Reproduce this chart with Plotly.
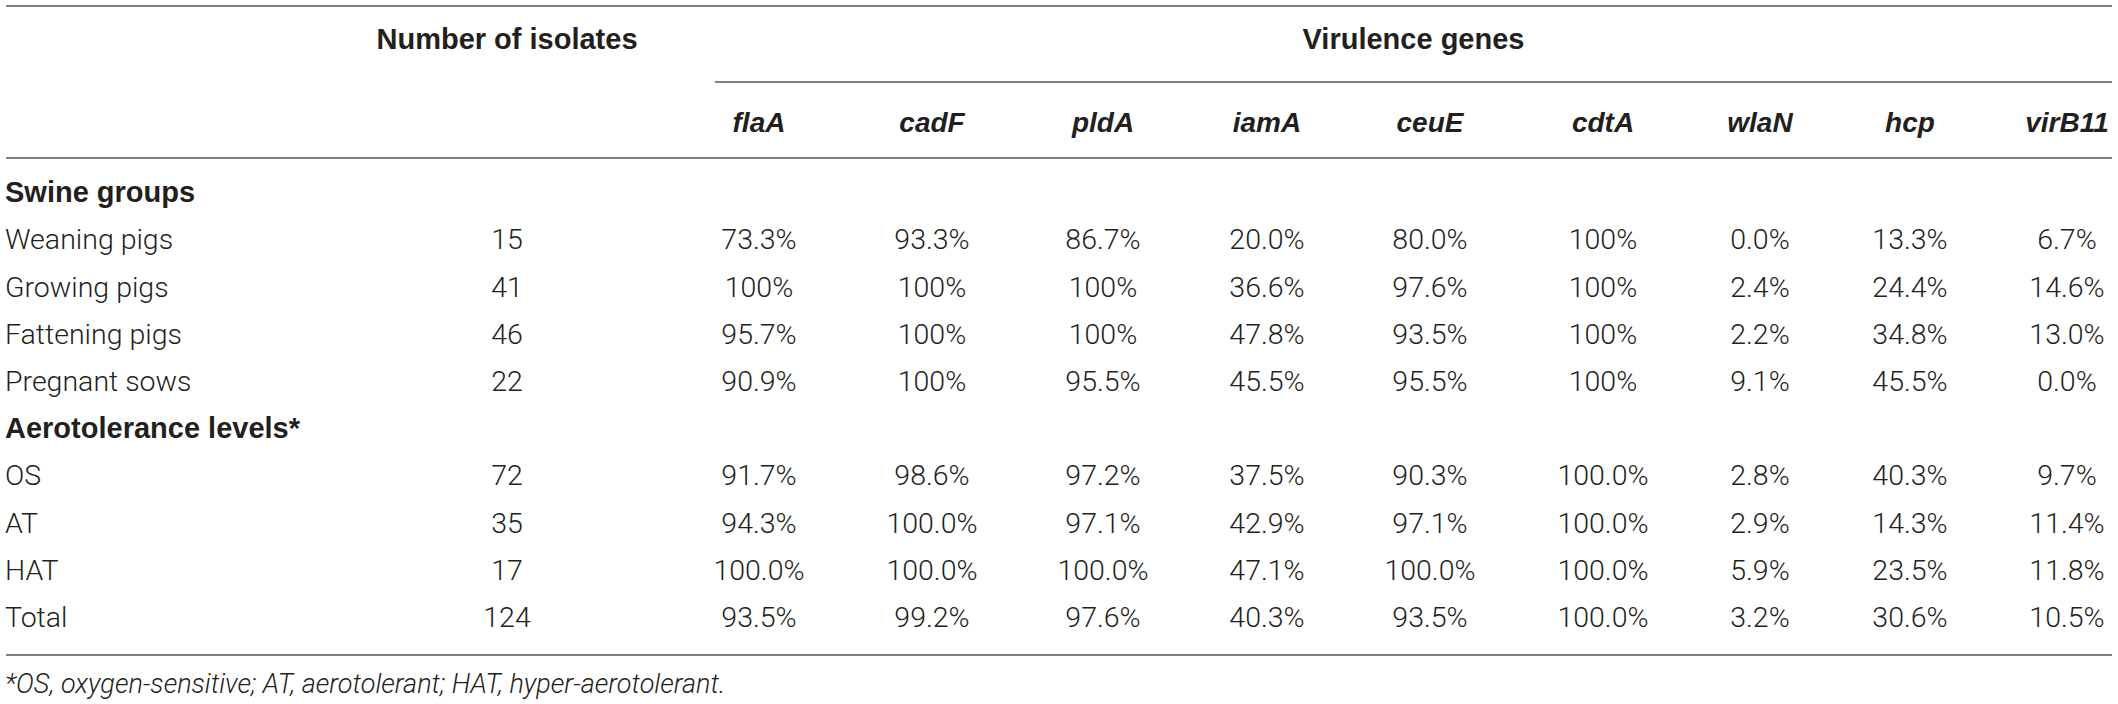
import plotly.graph_objects as go

# table contents
row_labels = ["Weaning pigs", "Growing pigs", "Fattening pigs", "Pregnant sows",
              "OS", "AT", "HAT", "Total"]
section_labels = ["Swine groups", "Aerotolerance levels*"]
isolates = [15, 41, 46, 22, 72, 35, 17, 124]
genes = ["flaA", "cadF", "pldA", "iamA", "ceuE", "cdtA", "wlaN", "hcp", "virB11"]

flaA = ["73.3%", "100%", "95.7%", "90.9%", "91.7%", "94.3%", "100.0%", "93.5%"]
cadF = ["93.3%", "100%", "100%", "100%", "98.6%", "100.0%", "100.0%", "99.2%"]
pldA = ["86.7%", "100%", "100%", "95.5%", "97.2%", "97.1%", "100.0%", "97.6%"]
iamA = ["20.0%", "36.6%", "47.8%", "45.5%", "37.5%", "42.9%", "47.1%", "40.3%"]
ceuE = ["80.0%", "97.6%", "93.5%", "95.5%", "90.3%", "97.1%", "100.0%", "93.5%"]
cdtA = ["100%", "100%", "100%", "100%", "100.0%", "100.0%", "100.0%", "100.0%"]
wlaN = ["0.0%", "2.4%", "2.2%", "9.1%", "2.8%", "2.9%", "5.9%", "3.2%"]
hcp = ["13.3%", "24.4%", "34.8%", "45.5%", "40.3%", "14.3%", "23.5%", "30.6%"]
virB11 = ["6.7%", "14.6%", "13.0%", "0.0%", "9.7%", "11.4%", "11.8%", "10.5%"]
gene_values = [flaA, cadF, pldA, iamA, ceuE, cdtA, wlaN, hcp, virB11]

footnote = "*OS, oxygen-sensitive; AT, aerotolerant; HAT, hyper-aerotolerant."

# layout in pixels (axes are mapped 1:1 onto the page)
W, H = 2118, 704
col_x = [507, 759, 932, 1103, 1267, 1430, 1603, 1760, 1910, 2067]
left_x = 5
row_step = 47.2
first_row_y = 195
section_before = [0, 4]  # section header placed before these data rows

BODY = "Roboto"
BOLD = "Liberation Sans"
TXT = "#231f20"
LINE = "#808080"
body_font = dict(family=BODY, size=28.5, color=TXT, weight=300)
bold_font = dict(family=BOLD, size=29, color=TXT, weight="bold")
gene_font = dict(family=BOLD, size=28, color=TXT, weight="bold")

# assign y positions: section headers interleaved with data rows
row_y = []
section_y = []
k = 0
for i in range(len(row_labels)):
    if i in section_before:
        section_y.append(first_row_y + row_step * k)
        k += 1
    row_y.append(first_row_y + row_step * k)
    k += 1

fig = go.Figure()

# left labels
fig.add_trace(go.Scatter(x=[left_x] * len(row_labels), y=row_y, text=row_labels,
                         mode="text", textposition="middle right",
                         textfont=body_font, cliponaxis=False))
fig.add_trace(go.Scatter(x=[left_x] * len(section_labels), y=section_y,
                         text=section_labels, mode="text",
                         textposition="middle right",
                         textfont=bold_font, cliponaxis=False))

# number of isolates column
fig.add_trace(go.Scatter(x=[col_x[0]] * len(isolates), y=row_y,
                         text=[str(v) for v in isolates], mode="text",
                         textposition="middle center",
                         textfont=body_font, cliponaxis=False))

# gene columns
for gi, (g, vals) in enumerate(zip(genes, gene_values)):
    fig.add_trace(go.Scatter(x=[col_x[gi + 1]] * len(vals), y=row_y, text=vals,
                             mode="text", textposition="middle center",
                             textfont=body_font, cliponaxis=False))

# header texts
header_y1, header_y2 = 42, 125
fig.add_trace(go.Scatter(x=col_x[1:], y=[header_y2] * len(genes),
                         text=["<i>%s</i>" % g for g in genes],
                         mode="text", textposition="middle center",
                         textfont=gene_font, cliponaxis=False))
fig.add_trace(go.Scatter(x=[col_x[0], (715 + 2112) / 2], y=[header_y1, header_y1],
                         text=["Number of isolates", "Virulence genes"],
                         mode="text", textposition="middle center",
                         textfont=bold_font, cliponaxis=False))

# footnote
fig.add_trace(go.Scatter(x=[left_x], y=[686], text=["<i>%s</i>" % footnote],
                         mode="text", textposition="middle right",
                         textfont=dict(family=BODY, size=27, color=TXT, weight=300),
                         cliponaxis=False))

# rules
for x0, y in [(6, 6), (715, 82), (6, 158), (6, 655)]:
    fig.add_shape(type="line", x0=x0, x1=2112, y0=y, y1=y,
                  line=dict(color=LINE, width=2))

fig.update_layout(
    width=W, height=H,
    margin=dict(l=0, r=0, t=0, b=0),
    paper_bgcolor="white", plot_bgcolor="white",
    showlegend=False,
    xaxis=dict(range=[0, W], visible=False, fixedrange=True),
    yaxis=dict(range=[H, 0], visible=False, fixedrange=True),
)

fig.write_html("out.html", config={"displayModeBar": False},
               post_script="document.body.style.margin='0';"
                           "document.body.style.overflow='hidden';")
